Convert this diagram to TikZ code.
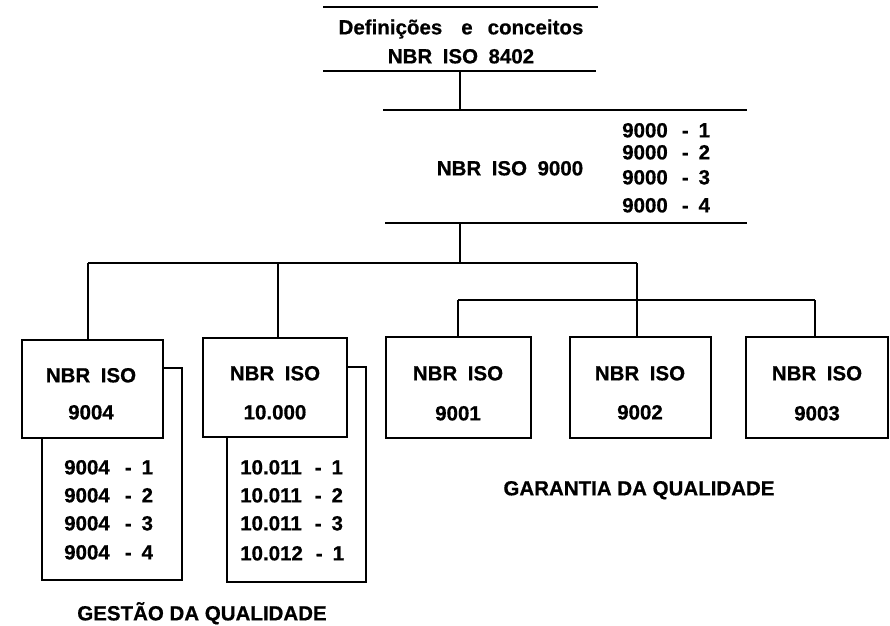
\documentclass[tikz,border=0pt]{standalone}
\usepackage{fontspec}
\setmainfont{Liberation Sans}[BoldFeatures={FakeBold=0.6}]
\newcommand{\ws}{\hspace{10.5pt}}
\begin{document}
\begin{tikzpicture}[x=1pt,y=-1pt,
  ln/.style={line width=2.8pt},
  box/.style={draw,line width=2.8pt,inner sep=0pt,fill=white,rectangle},
  big/.style={inner sep=0pt,text height=14.7pt,text depth=0pt,font=\fontsize{20.5}{24}\selectfont\bfseries},
  sm/.style={big,anchor=west}]
\useasboundingbox (0,0) rectangle (890,625);

% ---- top block
\coordinate (t1l) at (323,7);  \coordinate (t1r) at (598,7);
\node[big] (def) at (461,27) {Definições\hspace{19pt}e\hspace{15pt}conceitos};
\node[big] (n8402) at (461,56) {NBR\ws ISO\ws 8402};
\coordinate (t2l) at (323,71); \coordinate (t2r) at (596,71); \coordinate (t2m) at (460,71);
\coordinate (t3l) at (383,110); \coordinate (t3r) at (747,110); \coordinate (t3m) at (460,110);
\node[big] (n9000) at (510,168) {NBR\ws ISO\ws 9000};
\node[sm] (l90a) at (622,130) {9000\hspace{14pt}-\hspace{10pt}1};
\node[sm] (l90b) at (622,152) {9000\hspace{14pt}-\hspace{10pt}2};
\node[sm] (l90c) at (622,177) {9000\hspace{14pt}-\hspace{10pt}3};
\node[sm] (l90d) at (622,205) {9000\hspace{14pt}-\hspace{10pt}4};
\coordinate (t4l) at (385,223); \coordinate (t4r) at (747,223); \coordinate (t4m) at (460,223);

\draw[ln] (t1l) -- (t1r);
\draw[ln] (t2l) -- (t2r);
\draw[ln] (t3l) -- (t3r);
\draw[ln] (t4l) -- (t4r);
\draw[ln] (t2m) -- (t3m);

% ---- branches
\coordinate (h1l) at (88,263); \coordinate (h1b) at (278,263);
\coordinate (h1m) at (460,263); \coordinate (h1r) at (637,263);
\coordinate (h2l) at (458,300); \coordinate (h2r) at (815,300); \coordinate (h2m) at (637,300);

% ---- sub boxes
\coordinate (s1a) at (182,368); \coordinate (s1b) at (182,580); \coordinate (s1c) at (42,580);
\coordinate (s2a) at (366,367); \coordinate (s2b) at (366,582); \coordinate (s2c) at (227,582);

% ---- boxes
\node[box,minimum width=141pt,minimum height=98pt] (b9004) at (92.5,389) {};
\node[box,minimum width=144pt,minimum height=99pt] (b10000) at (275,387.5) {};
\node[box,minimum width=145pt,minimum height=101pt] (b9001) at (458.5,387.5) {};
\node[box,minimum width=141pt,minimum height=101pt] (b9002) at (640.5,387.5) {};
\node[box,minimum width=142pt,minimum height=101pt] (b9003) at (817,387.5) {};

\draw[ln] (t4m) -- (h1m);
\draw[ln] (h1l) -- (h1r);
\draw[ln] (h1l) -- (h1l |- b9004.north);
\draw[ln] (h1b) -- (h1b |- b10000.north);
\draw[ln] (h1r) -- (h1r |- b9002.north);
\draw[ln] (h2l) -- (h2r);
\draw[ln] (h2l) -- (h2l |- b9001.north);
\draw[ln] (h2r) -- (h2r |- b9003.north);

\draw[ln] (b9004.east |- s1a) -- (s1a) -- (s1b) -- (s1c) -- (s1c |- b9004.south);
\draw[ln] (b10000.east |- s2a) -- (s2a) -- (s2b) -- (s2c) -- (s2c |- b10000.south);

% ---- box texts
\node[big] (x9004a) at (91,375) {NBR\ws ISO};
\node[big] (x9004b) at (91,412) {9004};
\node[big] (x10a) at (275,373) {NBR\ws ISO};
\node[big] (x10b) at (275,412) {10.000};
\node[big] (x9001a) at (458,373) {NBR\ws ISO};
\node[big] (x9001b) at (458,413) {9001};
\node[big] (x9002a) at (640,373) {NBR\ws ISO};
\node[big] (x9002b) at (640,412) {9002};
\node[big] (x9003a) at (817,373) {NBR\ws ISO};
\node[big] (x9003b) at (817,413) {9003};

% ---- lists
\node[sm] (l94a) at (64,467) {9004\hspace{15pt}-\hspace{10pt}1};
\node[sm] (l94b) at (64,495) {9004\hspace{15pt}-\hspace{10pt}2};
\node[sm] (l94c) at (64,523) {9004\hspace{15pt}-\hspace{10pt}3};
\node[sm] (l94d) at (64,552) {9004\hspace{15pt}-\hspace{10pt}4};
\node[sm] (l10a) at (240,467) {10.011\hspace{13pt}-\hspace{10pt}1};
\node[sm] (l10b) at (240,495) {10.011\hspace{13pt}-\hspace{10pt}2};
\node[sm] (l10c) at (240,523) {10.011\hspace{13pt}-\hspace{10pt}3};
\node[sm] (l10d) at (240,553) {10.012\hspace{13pt}-\hspace{10pt}1};

% ---- captions
\node[big] (gar) at (639,488) {GARANTIA DA QUALIDADE};
\node[big] (ges) at (202,613) {GESTÃO DA QUALIDADE};
\end{tikzpicture}
\end{document}
